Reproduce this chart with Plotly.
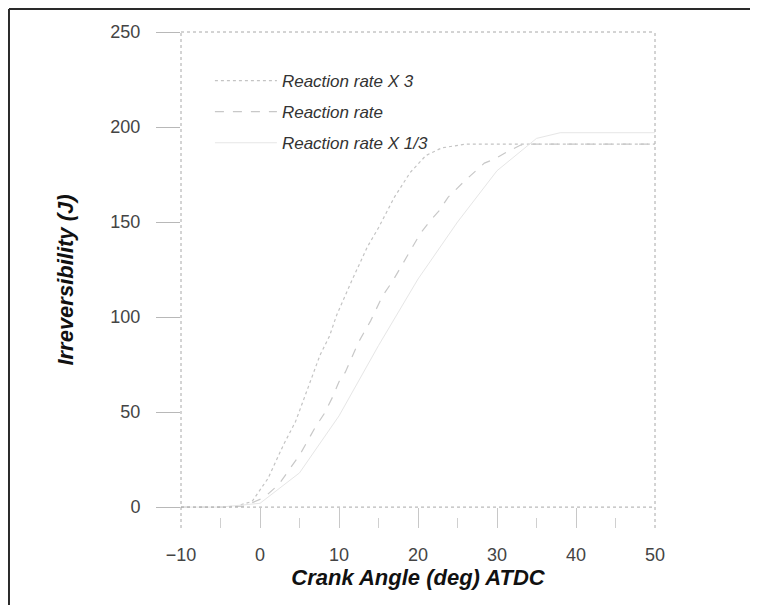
import plotly.graph_objects as go

# Data (crank angle in deg ATDC, irreversibility in J)
x_rate3 = [-10, -5, -3, -1, 1, 3, 4.5, 6, 7.6, 8.8, 9.7, 11.6, 12.6, 13.6, 15, 17, 19, 21, 23, 26, 30, 40, 50]
y_rate3 = [0, 0, 0.5, 3, 15, 33, 45, 62, 80, 90, 101, 119, 128, 137, 147, 163, 176, 185, 189, 191, 191, 191, 191]

x_rate = [-10, -5, -2, 0.5, 2.4, 5.1, 7, 8.1, 9.2, 10, 10.8, 11.9, 12.5, 14, 15.5, 16.8, 18.8, 20.3, 21.6, 22.7,
          23.8, 24.8, 26, 28.4, 29.6, 31.3, 33, 34, 40, 50]
y_rate = [0, 0, 0.5, 5, 12, 28, 42, 49, 58, 66, 71, 82, 87, 98, 111, 119, 133, 144, 151, 156,
          163, 167, 172, 181, 183, 187, 190.5, 191, 191, 191]

x_rate13 = [-10, -5, 0, 5, 10, 15, 20, 25, 30, 35, 38, 40, 50]
y_rate13 = [0, 0, 2, 18, 48, 85, 120, 150, 177, 194, 197, 197, 197]

names = ["Reaction rate X 3", "Reaction rate", "Reaction rate X 1/3"]

FONT = "Liberation Sans, Arial, sans-serif"

fig = go.Figure()
fig.add_trace(go.Scatter(x=x_rate3, y=y_rate3, mode="lines", name=names[0], legendgroup="a",
                         line=dict(color="#c4c4c4", width=1.2, dash="dot")))
fig.add_trace(go.Scatter(x=x_rate, y=y_rate, mode="lines", name=names[1], legendgroup="b",
                         line=dict(color="#c8c8c8", width=1.2, dash="dash")))
fig.add_trace(go.Scatter(x=x_rate13, y=y_rate13, mode="lines", name=names[2], legendgroup="c",
                         line=dict(color="#e6e6e6", width=1)))

grey = "#a8a8a8"
shapes = [
    # plot frame (dotted)
    dict(type="line", xref="paper", yref="paper", x0=0, x1=0, y0=0, y1=1, line=dict(color=grey, width=1, dash="dot")),
    dict(type="line", xref="paper", yref="paper", x0=1, x1=1, y0=0, y1=1, line=dict(color=grey, width=1, dash="dot")),
    dict(type="line", xref="paper", yref="paper", x0=0, x1=1, y0=1, y1=1, line=dict(color=grey, width=1, dash="dot")),
    # zero line
    dict(type="line", xref="paper", yref="y", x0=0, x1=1, y0=0, y1=0, line=dict(color=grey, width=1, dash="dot")),
    # outer border (left and top edges visible)
    dict(type="line", xref="paper", yref="paper", x0=-0.3629, x1=-0.3629, y0=-0.2, y1=1.0464,
         line=dict(color="#2a2a2a", width=2)),
    dict(type="line", xref="paper", yref="paper", x0=-0.3629, x1=1.3, y0=1.0464, y1=1.0464,
         line=dict(color="#2a2a2a", width=2)),
]

fig.update_layout(
    width=758, height=605,
    margin=dict(l=173, r=111, t=24, b=85),
    paper_bgcolor="white", plot_bgcolor="white",
    font=dict(family=FONT, color="#333333", size=18),
    showlegend=True,
    legend=dict(x=0.061, y=0.9375, xanchor="left", yanchor="top", bgcolor="rgba(0,0,0,0)",
                font=dict(family=FONT, size=17, style="italic", color="#333333"),
                itemwidth=62, tracegroupgap=6),
    shapes=shapes,
)

fig.update_xaxes(range=[-10, 50], tickvals=[-10, 0, 10, 20, 30, 40, 50], showgrid=False, zeroline=False,
                 showline=False, ticks="inside", ticklen=20, tickcolor="#c8c8c8", tickwidth=1,
                 minor=dict(ticks="inside", ticklen=10, tickcolor="#d0d0d0", dtick=5),
                 ticklabelstandoff=14, tickfont=dict(size=18, color="#444444"),
                 title=dict(text="Crank Angle (deg) ATDC", standoff=3,
                            font=dict(family=FONT, size=22, weight="bold", style="italic", color="#111111")))
fig.update_yaxes(range=[-11, 250], tickvals=[0, 50, 100, 150, 200, 250], showgrid=False, zeroline=False,
                 showline=False, ticks="outside", ticklen=24, tickcolor="#b8b8b8", tickwidth=1,
                 ticklabelstandoff=12, tickfont=dict(size=18, color="#444444"),
                 title=dict(text="Irreversibility (J)", standoff=30,
                            font=dict(family=FONT, size=22, weight="bold", style="italic", color="#111111")))

fig.write_html("out.html")
